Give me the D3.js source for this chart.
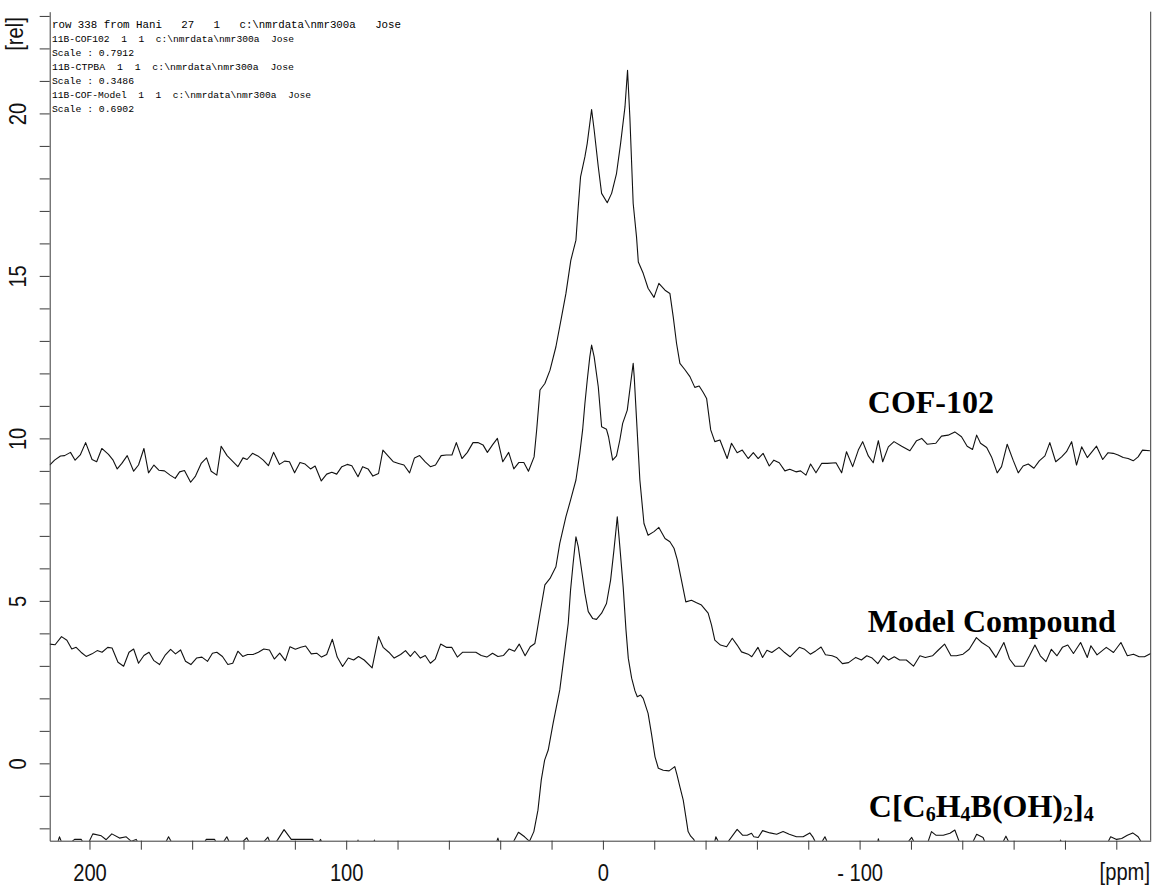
<!DOCTYPE html>
<html>
<head>
<meta charset="utf-8">
<script src="https://cdn.jsdelivr.net/npm/d3@7"></script>
<style>
  html, body { margin: 0; padding: 0; background: #fff; }
  svg { display: block; }
</style>
</head>
<body>
<svg id="chart" width="1153" height="886"></svg>
<script>
// 11B MAS NMR spectra, [chemical shift in ppm, intensity in rel. units]

const cof102 = [
  [215.5,9.18],[213.6,9.33],[211.3,9.46],[209.7,9.47],[207.4,9.57],[205.6,9.33],[203.6,9.49],[201.5,9.87],[199.0,9.35],[197.2,9.28],
  [195.2,9.69],[192.6,9.51],[190.8,9.33],[189.2,9.06],[187.4,9.23],[185.3,9.47],[182.8,8.99],[180.9,9.18],[178.8,9.69],[177.0,8.94],
  [174.9,9.18],[173.0,9.02],[170.8,9.00],[168.6,8.87],[166.6,8.77],[164.9,8.97],[163.0,9.01],[160.6,8.65],[158.7,8.84],[156.5,9.23],
  [154.4,9.40],[152.6,8.99],[150.4,8.87],[148.7,9.76],[146.4,9.47],[144.3,9.30],[142.2,9.13],[140.2,9.40],[138.6,9.35],[136.5,9.54],
  [134.4,9.46],[132.3,9.33],[130.3,9.16],[128.3,9.57],[126.0,9.20],[124.0,9.30],[122.1,9.28],[120.1,8.94],[118.0,9.26],[116.0,9.21],
  [113.9,9.06],[112.1,9.15],[109.7,8.69],[107.6,8.90],[105.6,8.96],[103.7,8.90],[101.7,9.13],[99.6,9.20],[97.8,9.16],[95.4,8.82],
  [93.6,9.13],[91.5,9.06],[89.6,8.84],[87.4,8.92],[85.7,9.64],[83.8,9.47],[81.6,9.28],[79.6,9.23],[77.5,9.18],[75.3,8.94],
  [73.4,9.40],[71.4,9.47],[69.2,9.28],[67.2,9.13],[65.2,9.18],[63.0,9.47],[61.0,9.49],[58.8,9.49],[57.1,9.87],[54.9,9.38],
  [52.8,9.57],[50.6,9.87],[48.7,9.87],[46.7,9.80],[45.0,9.57],[43.0,9.80],[41.1,10.00],[39.0,9.28],[36.7,9.57],[34.7,9.06],
  [32.7,9.26],[30.8,9.26],[29.0,8.99],
  [26.8,9.43],[25.8,10.26],[24.5,11.49],[22.6,11.69],[20.6,12.10],[18.3,12.82],[16.1,13.74],[14.4,14.46],[12.5,15.48],[10.5,16.10],
  [9.6,17.13],[8.7,18.05],[7.0,18.67],[6.1,19.08],[4.4,20.12],[3.4,19.49],[1.8,18.36],[0.5,17.54],[-1.7,17.25],[-3.4,17.54],
  [-5.3,18.15],[-6.9,19.08],[-8.6,20.20],[-9.6,21.33],[-10.5,19.90],[-11.8,17.23],[-13.1,16.20],[-13.8,15.43],[-15.7,15.08],[-17.6,14.62],
  [-19.9,14.34],[-21.8,14.77],[-24.2,14.56],[-26.1,14.46],[-27.4,13.74],[-28.7,12.92],[-30.0,12.31],[-31.9,12.12],[-33.9,11.90],[-35.8,11.57],
  [-37.5,11.61],[-39.1,11.41],[-40.4,11.23],[-42.0,10.26],[-43.6,9.90],[-45.6,9.95],[-48.4,9.38],[-50.1,9.85],[-52.3,9.56],[-54.3,9.64],
  [-56.6,9.38],
  [-58.6,9.56],[-60.5,9.38],[-62.4,9.54],[-64.8,9.15],[-66.6,9.33],[-68.7,9.25],[-70.9,9.00],[-72.8,9.05],[-75.2,8.97],[-77.0,9.00],
  [-79.1,8.87],[-80.9,9.21],[-83.0,8.94],[-85.2,9.23],[-87.4,9.23],[-90.8,9.25],[-93.0,8.94],[-94.9,9.59],[-97.3,9.13],[-99.5,9.64],
  [-101.2,9.90],[-103.4,9.46],[-105.3,9.25],[-107.3,9.93],[-109.0,9.28],[-111.2,9.74],[-113.4,9.90],[-116.4,9.76],[-119.6,9.62],[-122.2,9.93],
  [-124.2,10.00],[-126.3,9.82],[-129.7,9.85],[-131.9,10.07],[-134.5,10.10],[-137.1,10.20],[-139.7,10.05],[-141.9,9.76],[-144.0,9.66],[-145.6,10.10],
  [-147.1,9.85],[-149.5,9.72],[-151.4,9.43],[-153.6,8.94],[-155.3,9.13],[-157.5,9.82],[-159.8,9.33],[-161.8,8.94],[-163.7,9.15],[-165.7,9.21],
  [-167.9,9.08],[-170.0,9.31],[-172.2,9.46],[-174.1,9.87],[-176.4,9.28],[-178.7,9.43],[-180.6,9.59],[-182.6,9.90],[-184.5,9.18],[-186.5,9.74],
  [-188.7,9.41],[-192.3,9.76],[-194.7,9.35],[-196.8,9.56],[-198.8,9.54],[-200.7,9.49],[-202.7,9.41],[-204.6,9.38],[-206.6,9.31],[-208.5,9.43],
  [-210.2,9.64],[-213.1,9.62]
];

const modelCompound = [
  [215.5,3.67],[213.4,3.65],[210.9,3.90],[208.8,3.79],[206.9,3.52],[205.2,3.57],[203.3,3.42],[201.3,3.29],[199.0,3.37],[197.0,3.47],
  [195.1,3.42],[192.9,3.57],[191.2,3.55],[188.9,3.11],[186.7,2.99],[184.6,3.42],[182.8,3.52],[180.9,3.08],[178.8,3.32],[176.8,3.42],
  [174.9,3.16],[172.7,3.04],[170.6,3.32],[168.4,3.51],[166.5,3.37],[164.5,3.49],[162.6,3.14],[160.5,3.04],[158.3,3.24],[156.2,3.27],
  [154.0,3.14],[152.1,3.39],[150.4,3.42],[148.2,3.29],[146.1,3.04],[144.2,3.08],[142.2,3.45],[140.3,3.29],[138.4,3.35],[136.3,3.35],
  [134.2,3.42],[132.1,3.52],[129.9,3.49],[128.0,3.21],[125.9,3.39],[123.7,3.16],[121.9,3.59],[119.8,3.51],[117.7,3.57],[115.8,3.61],
  [113.6,3.37],[111.5,3.39],[109.6,3.27],[107.6,3.35],[105.4,3.82],[103.5,3.27],[101.4,2.98],[99.2,3.24],[97.1,3.18],[95.2,3.29],
  [93.0,3.18],[89.9,2.94],[87.4,3.90],[85.6,3.57],[83.4,3.42],[81.3,3.24],[78.8,3.35],[76.9,3.47],[75.0,3.29],[73.3,3.45],
  [71.1,3.24],[69.2,3.32],[67.2,3.08],[65.3,3.21],[63.2,3.67],[61.0,3.57],[58.9,3.57],[56.7,3.27],[54.6,3.42],[52.0,3.42],
  [49.5,3.42],[47.4,3.32],[45.2,3.27],[43.0,3.39],[40.9,3.29],[38.7,3.32],[36.5,3.52],[34.4,3.45],[32.6,3.67],[30.3,3.31],
  [28.3,3.59],
  [26.5,3.69],[25.8,4.00],[24.5,4.62],[22.6,5.49],[20.6,5.69],[18.3,6.05],[16.8,6.77],[14.4,7.59],[12.6,8.10],[10.5,8.72],
  [9.0,9.54],[7.9,10.26],[7.0,11.08],[6.1,11.79],[5.1,12.51],[4.4,12.87],[3.4,12.51],[1.8,11.59],[0.5,10.36],[-1.4,10.28],
  [-2.2,10.05],[-3.8,9.33],[-5.3,9.46],[-6.6,9.95],[-7.7,10.46],[-9.5,10.87],[-10.8,11.69],[-11.8,12.31],[-12.2,11.90],[-14.4,8.72],
  [-16.0,7.38],[-17.6,7.02],[-19.9,7.13],[-21.8,7.26],[-24.2,6.92],[-26.1,6.82],[-27.7,6.62],[-29.0,6.26],[-30.6,5.64],[-32.3,4.97],
  [-34.5,5.02],[-36.5,4.94],[-38.4,4.87],[-41.0,4.62],[-42.3,4.26],[-43.6,3.79],[-45.8,3.64],[-48.2,3.59],[-50.4,3.85],[-52.3,3.64],
  [-54.0,3.43],[-56.6,3.36],
  [-58.0,3.28],[-60.4,3.57],[-62.2,3.26],[-63.9,3.48],[-65.8,3.41],[-68.6,3.57],[-70.8,3.41],[-72.9,3.28],[-76.5,3.57],[-78.6,3.51],
  [-80.8,3.36],[-82.9,3.46],[-85.0,3.58],[-86.7,3.34],[-89.3,3.31],[-91.0,3.26],[-93.3,3.07],[-95.7,3.10],[-98.5,3.26],[-100.7,3.18],
  [-102.8,3.31],[-104.9,3.24],[-107.1,3.07],[-109.2,3.31],[-111.3,3.18],[-113.5,3.28],[-115.6,3.18],[-118.2,3.18],[-121.0,2.99],[-123.5,3.31],
  [-125.6,3.26],[-128.4,3.31],[-130.6,3.48],[-133.1,3.67],[-135.6,3.31],[-137.7,3.31],[-140.3,3.36],[-142.7,3.51],[-145.5,3.87],[-147.6,3.72],
  [-150.5,3.57],[-153.1,3.26],[-156.2,3.72],[-158.4,3.21],[-160.5,2.99],[-164.0,2.99],[-166.2,3.31],[-168.3,3.64],[-170.4,3.31],[-172.6,3.13],
  [-174.7,3.51],[-176.9,3.31],[-179.0,3.57],[-181.1,3.64],[-183.3,3.38],[-186.1,3.72],[-188.7,3.26],[-190.1,3.62],[-192.5,3.34],[-196.1,3.57],
  [-198.9,3.41],[-201.8,3.72],[-204.3,3.31],[-206.7,3.36],[-208.9,3.28],[-211.0,3.28],[-213.4,3.38]
];

const boronicAcid = [
  [215.6,-2.6],[213.0,-2.6],[211.7,-2.26],[210.0,-2.6],[207.5,-2.45],[205.8,-2.34],[203.2,-2.34],[201.3,-2.6],[198.7,-2.17],[195.4,-2.23],
  [193.5,-2.35],[191.3,-2.17],[188.3,-2.30],[185.7,-2.26],[183.7,-2.40],[181.8,-2.34],[179.9,-2.6],[171.4,-2.6],[169.2,-2.26],[166.8,-2.6],
  [156.5,-2.6],[154.5,-2.34],[151.3,-2.34],[149.3,-2.6],[146.5,-2.26],[144.5,-2.6],[140.9,-2.45],[138.7,-2.29],[136.7,-2.6],[132.5,-2.45],
  [130.5,-2.27],[128.9,-2.6],[126.6,-2.34],[124.2,-2.04],[121.4,-2.34],[113.0,-2.34],[111.9,-2.6],[110.0,-2.34],[108.4,-2.6],[96.0,-2.6],
  [95.4,-2.36],[94.8,-2.6],[89.6,-2.6],[89.0,-2.36],[88.4,-2.6],[42.2,-2.6],[40.9,-2.3],[39.9,-2.6],[35.1,-2.45],[32.9,-2.12],
  [30.5,-2.26],[28.6,-2.40],[26.9,-2.10],[25.3,-1.44],[24.0,-0.51],[22.7,0.10],
  [21.3,0.41],[19.4,1.23],[16.8,2.26],[14.8,3.49],[13.5,4.31],[12.6,5.33],[11.6,6.15],[10.5,6.97],[9.6,6.67],[8.3,5.95],
  [7.0,5.23],[5.7,4.67],[4.0,4.46],[2.5,4.43],[0.5,4.62],[-1.4,4.92],[-3.0,5.64],[-4.3,6.56],[-5.1,7.18],[-5.6,7.59],
  [-6.6,6.67],[-7.9,5.43],[-9.0,4.10],[-9.9,3.23],[-11.2,2.62],[-12.5,2.23],[-13.4,2.05],[-14.7,2.10],[-15.7,2.00],[-17.6,1.54],
  [-18.9,0.92],[-20.3,0.20],[-21.6,-0.15],[-23.5,-0.21],[-25.8,-0.23],[-28.0,-0.10],[-28.9,-0.36],[-30.0,-0.72],[-31.3,-1.13],[-32.3,-1.64],
  [-33.2,-2.10],[-34.2,-2.24],[-35.4,-2.34],[-37.0,-2.6],
  [-43.0,-2.6],[-44.0,-2.26],[-46.2,-2.6],[-48.4,-2.45],[-52.3,-2.03],[-54.4,-2.21],[-56.2,-2.21],[-57.9,-2.15],[-58.8,-2.26],[-60.5,-2.28],
  [-62.2,-2.07],[-65.1,-2.14],[-67.7,-2.18],[-70.2,-2.10],[-72.6,-2.18],[-75.4,-2.26],[-78.0,-2.26],[-80.6,-2.14],[-81.9,-2.28],[-83.9,-2.6],
  [-86.5,-2.26],[-88.4,-2.6],[-106.6,-2.6],[-107.3,-2.32],[-108.2,-2.6],[-117.0,-2.6],[-120.3,-2.28],[-122.4,-2.6],[-126.5,-2.45],[-128.0,-2.10],
  [-129.7,-2.21],[-132.6,-2.21],[-135.2,-2.15],[-137.1,-2.05],[-139.7,-2.6],[-143.0,-2.6],[-145.6,-2.18],[-148.1,-2.28],[-149.7,-2.6],[-154.7,-2.6],
  [-157.0,-2.24],[-159.2,-2.6],[-177.4,-2.6],[-178.3,-2.36],[-179.3,-2.6],[-195.6,-2.6],[-197.8,-2.26],[-200.1,-2.34],[-202.1,-2.31],[-204.3,-2.21],
  [-206.4,-2.14],[-208.5,-2.26],[-211.1,-2.6],[-213.7,-2.6]
];

const yTickValues = d3.range(-2, 24, 1);
const yLabelValues = [0, 5, 10, 15, 20];
const xTickValues = d3.range(200, -201, -20);
const xTickLabels = new Map([[200, "200"], [100, "100"], [0, "0"], [-100, "- 100"]]);

const headerLines = [
  "row 338 from Hani   27   1   c:\\nmrdata\\nmr300a   Jose",
  "11B-COF102  1  1  c:\\nmrdata\\nmr300a  Jose",
  "Scale : 0.7912",
  "11B-CTPBA  1  1  c:\\nmrdata\\nmr300a  Jose",
  "Scale : 0.3486",
  "11B-COF-Model  1  1  c:\\nmrdata\\nmr300a  Jose",
  "Scale : 0.6902"
];

const seriesNames = ["COF-102", "Model Compound", "C[C6H4B(OH)2]4"];

// ---- layout ----
const svg = d3.select("#chart");
const plot = { left: 49.7, right: 1150.7, top: 11.7, bottom: 840.7 };

const x = d3.scaleLinear().domain([215.5, -213.4]).range([plot.left, plot.right]);
const y = d3.scaleLinear().domain([-2.38, 23.13]).range([plot.bottom, plot.top]);

const axisColor = "#3a3a3a";
const tickFont = "'Liberation Sans', Arial, sans-serif";
const tickSize = 24;
const narrow = 0.84;   // horizontal glyph compression of the axis lettering

svg.append("defs").append("clipPath").attr("id", "plotClip")
  .append("rect")
  .attr("x", plot.left).attr("y", plot.top)
  .attr("width", plot.right - plot.left).attr("height", plot.bottom - plot.top);

// spectra
const line = d3.line().x(d => x(d[0])).y(d => y(d[1]));
const traces = svg.append("g").attr("clip-path", "url(#plotClip)");
[cof102, modelCompound, boronicAcid].forEach(series => {
  traces.append("path")
    .datum(series)
    .attr("d", line)
    .attr("fill", "none")
    .attr("stroke", "#111")
    .attr("stroke-width", 1.1)
    .attr("stroke-linejoin", "round");
});

// left axis with rotated labels
const gy = svg.append("g")
  .attr("transform", `translate(${plot.left},0)`)
  .call(d3.axisLeft(y)
    .tickValues(yTickValues)
    .tickSize(10)
    .tickSizeOuter(0)
    .tickFormat(d => yLabelValues.includes(d) ? String(d) : ""));
gy.select(".domain").attr("stroke", axisColor);
gy.selectAll(".tick line").attr("stroke", axisColor);
gy.selectAll(".tick text")
  .attr("x", null).attr("dy", null)
  .attr("transform", `translate(${26 - plot.left},0) rotate(-90) scale(${narrow},1)`)
  .attr("text-anchor", "middle")
  .attr("font-family", tickFont)
  .attr("font-size", tickSize)
  .attr("fill", "#111");

// bottom axis
const gx = svg.append("g")
  .attr("transform", `translate(0,${plot.bottom})`)
  .call(d3.axisBottom(x)
    .tickValues(xTickValues)
    .tickSize(9)
    .tickSizeOuter(0)
    .tickFormat(d => xTickLabels.get(d) || ""));
gx.select(".domain").attr("stroke", axisColor);
gx.selectAll(".tick line").attr("stroke", axisColor);
gx.selectAll(".tick text")
  .attr("y", null).attr("dy", null)
  .attr("transform", `translate(0,${881 - plot.bottom}) scale(${narrow},1)`)
  .attr("font-family", tickFont)
  .attr("font-size", tickSize)
  .attr("fill", "#111");

// right frame edge
svg.append("line")
  .attr("x1", plot.right).attr("x2", plot.right)
  .attr("y1", plot.top).attr("y2", plot.bottom)
  .attr("stroke", axisColor);

// unit labels
svg.append("text")
  .attr("transform", `translate(23,34) rotate(-90) scale(${narrow},1)`)
  .attr("text-anchor", "middle")
  .attr("font-family", tickFont).attr("font-size", tickSize).attr("fill", "#111")
  .text("[rel]");
svg.append("text")
  .attr("transform", `translate(1150,880) scale(${narrow},1)`)
  .attr("text-anchor", "end")
  .attr("font-family", tickFont).attr("font-size", tickSize).attr("fill", "#111")
  .text("[ppm]");

// acquisition header
const headerWidths = [349, 242, 82, 242, 82, 259, 82];
const header = svg.append("g")
  .attr("font-family", "'Liberation Mono', 'DejaVu Sans Mono', monospace")
  .attr("fill", "#000");
headerLines.forEach((t, i) => {
  header.append("text")
    .attr("x", 52)
    .attr("y", 28 + i * 14)
    .attr("font-size", i === 0 ? 10.5 : 9)
    .attr("textLength", headerWidths[i])
    .attr("lengthAdjust", "spacingAndGlyphs")
    .style("white-space", "pre")
    .text(t);
});

// series names
const nameFont = "'Liberation Serif', 'Times New Roman', serif";
const nameX = x(-103.2);
const names = svg.append("g")
  .attr("font-family", nameFont)
  .attr("font-weight", "bold")
  .attr("font-size", 32)
  .attr("fill", "#000");

names.append("text").attr("x", nameX).attr("y", 413).text(seriesNames[0]);
names.append("text").attr("x", nameX).attr("y", 631.7).text(seriesNames[1]);

// chemical formula with subscripts
const formula = names.append("text").attr("x", nameX + 1).attr("y", 816.7);
const parts = seriesNames[2].match(/\d+|[^\d]+/g);
let sub = false;
parts.forEach(p => {
  const isDigit = /^\d+$/.test(p);
  const ts = formula.append("tspan").text(p);
  if (isDigit && !sub) { ts.attr("font-size", 20).attr("dy", 4); sub = true; }
  else if (!isDigit && sub) { ts.attr("dy", -4); sub = false; }
});
</script>
</body>
</html>
